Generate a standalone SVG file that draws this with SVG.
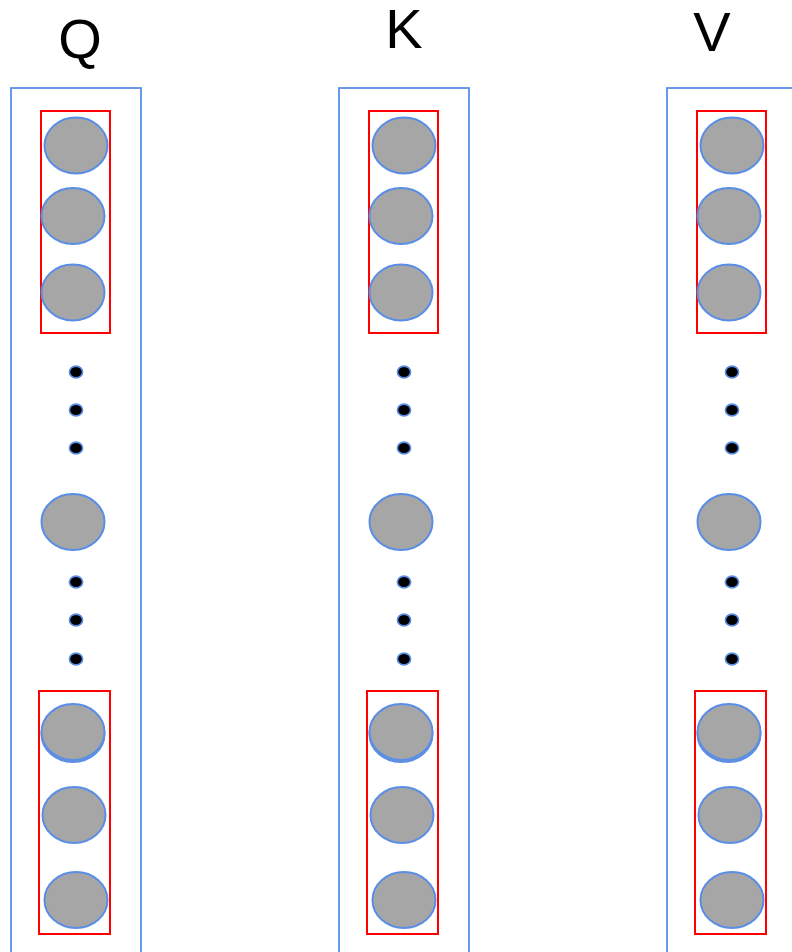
<svg xmlns="http://www.w3.org/2000/svg" xmlns:xlink="http://www.w3.org/1999/xlink" width="792" height="952" viewBox="0 0 792 952">
  <style>
    .label { font-family: "Liberation Sans", Arial, sans-serif; font-size: 56px; fill: #000; text-anchor: middle; }
    .frame { fill: none; stroke: #5a8ee6; stroke-width: 1.8; }
    .group { fill: none; stroke: #ff0000; stroke-width: 2; }
    .unit { fill: #a6a6a6; stroke: #5a8ee6; stroke-width: 2; }
    .dot { fill: #000; stroke: #5a8ee6; stroke-width: 1.6; }
  </style>
  <defs>
    <!-- one token column: frame, two grouped triples, ellipsis dots and a middle unit -->
    <g id="column">
      <rect class="frame" x="11" y="88" width="130" height="880"/>
      <rect class="group" x="41" y="111" width="69" height="222"/>
      <ellipse class="unit" cx="76" cy="145.5" rx="31.5" ry="28"/>
      <ellipse class="unit" cx="73" cy="216" rx="31.5" ry="28"/>
      <ellipse class="unit" cx="73" cy="292.5" rx="31.5" ry="28"/>
      <ellipse class="dot" cx="76" cy="372" rx="6.6" ry="5.9"/>
      <ellipse class="dot" cx="76" cy="410" rx="6.6" ry="5.9"/>
      <ellipse class="dot" cx="76" cy="448" rx="6.6" ry="5.9"/>
      <ellipse class="unit" cx="73" cy="522" rx="31.5" ry="28"/>
      <ellipse class="dot" cx="76" cy="582" rx="6.6" ry="5.9"/>
      <ellipse class="dot" cx="76" cy="620" rx="6.6" ry="5.9"/>
      <ellipse class="dot" cx="76" cy="659" rx="6.6" ry="5.9"/>
      <rect class="group" x="39" y="691" width="71" height="243"/>
      <ellipse class="unit" cx="73" cy="734" rx="31.5" ry="28"/>
      <ellipse class="unit" cx="73" cy="732" rx="31.5" ry="28"/>
      <ellipse class="unit" cx="74" cy="815" rx="31.5" ry="28"/>
      <ellipse class="unit" cx="76" cy="900" rx="31.5" ry="28"/>
    </g>
  </defs>

  <g id="Q">
    <text class="label" x="80" y="58">Q</text>
    <use xlink:href="#column" href="#column"/>
  </g>

  <g id="K">
    <text class="label" x="404" y="48">K</text>
    <use xlink:href="#column" href="#column" transform="translate(328,0)"/>
  </g>

  <g id="V">
    <text class="label" x="712" y="51">V</text>
    <use xlink:href="#column" href="#column" transform="translate(656,0)"/>
  </g>

  <g id="connectors"/>
</svg>
